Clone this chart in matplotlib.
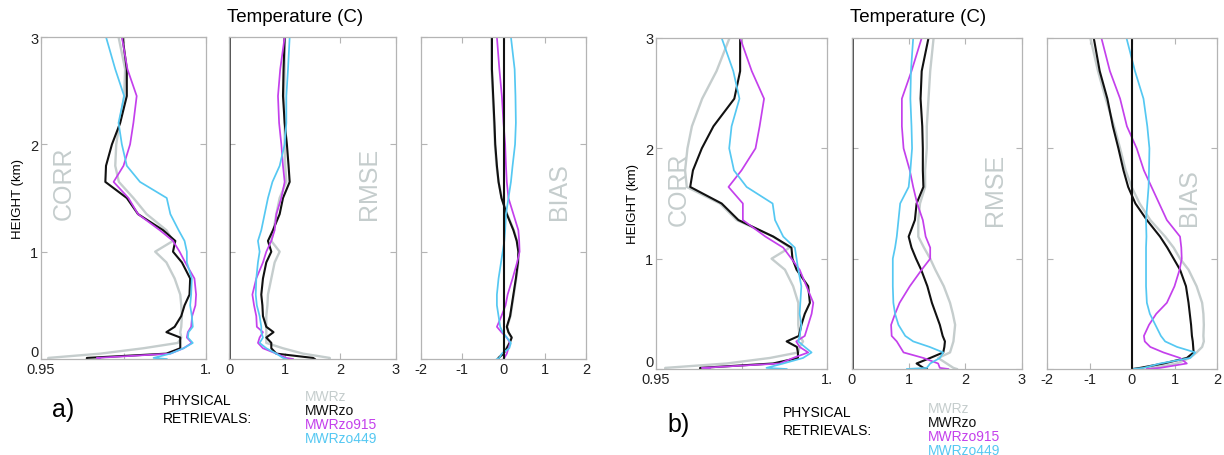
import matplotlib.pyplot as plt

plt.rcParams['font.family'] = ['Liberation Sans', 'DejaVu Sans']
plt.rcParams['axes.unicode_minus'] = False

# height levels (km), shared by every profile
height = [0, 0.01, 0.05, 0.1, 0.15, 0.2, 0.25, 0.3, 0.4, 0.5, 0.6, 0.75, 0.9,
          1.0, 1.1, 1.2, 1.35, 1.5, 1.65, 1.8, 2.0, 2.2, 2.45, 2.7, 3.0]

names = ['MWRz', 'MWRzo', 'MWRzo915', 'MWRzo449']
colors = ['#c5cdcd', '#111111', '#c440ec', '#55c8f2']
widths = [1.7, 1.5, 1.25, 1.25]

# ---- panel a ----
a_corr_mwrz = [0.9522, 0.9522, 0.968, 0.981, 0.9915, 0.9925, 0.9922, 0.9925, 0.9927, 0.9925, 0.9922, 0.9905, 0.988,
               0.9846, 0.990, 0.988, 0.982, 0.978, 0.9736, 0.9725, 0.9728, 0.9738, 0.9752, 0.9755, 0.9735]
a_corr_mwrzo = [0.9639, 0.9639, 0.988, 0.9922, 0.9922, 0.9922, 0.988, 0.9905, 0.9925, 0.9935, 0.995, 0.9952, 0.9927,
                0.990, 0.9907, 0.987, 0.9794, 0.976, 0.9695, 0.9697, 0.9715, 0.974, 0.976, 0.976, 0.9747]
a_corr_915 = [0.9679, 0.9669, 0.9892, 0.9932, 0.9957, 0.9942, 0.9945, 0.9955, 0.9958, 0.9968, 0.997, 0.9965, 0.9937,
              0.992, 0.990, 0.986, 0.9794, 0.9765, 0.972, 0.975, 0.977, 0.978, 0.979, 0.9762, 0.9745]
a_corr_449 = [0.9881, 0.9841, 0.9892, 0.9932, 0.996, 0.9945, 0.9947, 0.996, 0.9957, 0.9952, 0.9955, 0.9957, 0.9942,
              0.9942, 0.9935, 0.9917, 0.9892, 0.9881, 0.980, 0.976, 0.9745, 0.9735, 0.9752, 0.9725, 0.9697]

a_rmse_mwrz = [1.81, 1.81, 1.33, 0.97, 0.67, 0.67, 0.67, 0.67, 0.67, 0.69, 0.70, 0.76, 0.82,
               0.91, 0.76, 0.80, 0.85, 0.91, 1.03, 1.01, 1.00, 1.00, 0.99, 1.00, 1.00]
a_rmse_mwrzo = [1.54, 1.51, 0.85, 0.76, 0.76, 0.67, 0.80, 0.67, 0.61, 0.60, 0.58, 0.61, 0.67,
                0.76, 0.70, 0.79, 0.91, 0.97, 1.09, 1.07, 1.04, 1.00, 0.97, 0.98, 1.00]
a_rmse_915 = [1.15, 1.03, 0.85, 0.61, 0.52, 0.55, 0.61, 0.50, 0.49, 0.45, 0.42, 0.49, 0.61,
              0.67, 0.76, 0.82, 0.85, 0.94, 1.00, 0.97, 0.94, 0.90, 0.88, 0.92, 1.00]
a_rmse_449 = [1.03, 0.97, 0.85, 0.67, 0.55, 0.61, 0.58, 0.58, 0.55, 0.50, 0.48, 0.49, 0.52,
              0.55, 0.52, 0.58, 0.64, 0.70, 0.78, 0.91, 1.00, 1.03, 1.03, 1.06, 1.09]

a_bias_mwrz = [-0.14, -0.13, -0.02, 0.07, 0.14, 0.19, 0.12, 0.09, 0.17, 0.21, 0.25, 0.31, 0.36,
               0.37, 0.33, 0.25, 0.09, -0.04, -0.12, -0.17, -0.21, -0.23, -0.26, -0.29, -0.29]
a_bias_mwrzo = [-0.12, -0.12, 0.0, 0.08, 0.15, 0.20, 0.12, 0.08, 0.16, 0.20, 0.24, 0.30, 0.35,
                0.36, 0.32, 0.24, 0.08, -0.05, -0.12, -0.16, -0.20, -0.22, -0.25, -0.28, -0.28]
a_bias_915 = [0.0, 0.02, 0.08, 0.12, 0.16, 0.08, -0.05, -0.16, -0.05, 0.05, 0.10, 0.22, 0.33,
              0.39, 0.38, 0.36, 0.24, 0.12, 0.08, 0.06, 0.04, 0.0, -0.04, -0.10, -0.16]
a_bias_449 = [-0.16, -0.10, -0.04, 0.14, 0.18, 0.08, -0.02, -0.08, -0.12, -0.16, -0.16, -0.12, -0.06,
              -0.02, 0.02, 0.04, 0.06, 0.12, 0.18, 0.22, 0.28, 0.30, 0.29, 0.27, 0.18]

# ---- panel b ----
b_corr_mwrz = [0.9527, 0.9527, 0.9707, 0.9833, 0.9916, 0.992, 0.993, 0.992, 0.9916, 0.9916, 0.9916, 0.9901, 0.9877,
               0.9838, 0.9891, 0.9843, 0.9736, 0.9687, 0.959, 0.9585, 0.9592, 0.9605, 0.9635, 0.9677, 0.9715]
b_corr_mwrzo = [0.9629, 0.9629, 0.9842, 0.9915, 0.9915, 0.9912, 0.9882, 0.9918, 0.9925, 0.9935, 0.995, 0.9945, 0.9911,
                0.9899, 0.9896, 0.9843, 0.9741, 0.9692, 0.960, 0.9608, 0.9634, 0.9668, 0.9729, 0.9746, 0.9746]
b_corr_915 = [0.9658, 0.9634, 0.9862, 0.9901, 0.9945, 0.992, 0.991, 0.9935, 0.9945, 0.9955, 0.996, 0.994, 0.992,
              0.9896, 0.9872, 0.982, 0.9754, 0.9754, 0.9712, 0.975, 0.9791, 0.9803, 0.9816, 0.978, 0.9746]
b_corr_449 = [0.9882, 0.9823, 0.9872, 0.993, 0.9955, 0.9935, 0.9916, 0.992, 0.9925, 0.992, 0.9922, 0.9925, 0.9916,
              0.9911, 0.9906, 0.9872, 0.9848, 0.9841, 0.9765, 0.9728, 0.9714, 0.9721, 0.9744, 0.9726, 0.9692]

b_rmse_mwrz = [1.85, 1.79, 1.67, 1.52, 1.73, 1.76, 1.79, 1.80, 1.82, 1.78, 1.73, 1.62, 1.47,
               1.38, 1.27, 1.17, 1.17, 1.20, 1.29, 1.29, 1.32, 1.32, 1.35, 1.38, 1.44]
b_rmse_mwrzo = [1.32, 1.26, 1.14, 1.38, 1.61, 1.63, 1.64, 1.60, 1.55, 1.48, 1.41, 1.33, 1.22,
                1.13, 1.05, 1.00, 1.11, 1.14, 1.26, 1.25, 1.25, 1.24, 1.21, 1.23, 1.35]
b_rmse_915 = [1.70, 1.55, 1.52, 1.26, 0.91, 0.85, 0.79, 0.70, 0.69, 0.76, 0.84, 1.02, 1.23,
              1.38, 1.38, 1.30, 1.25, 1.15, 1.08, 1.02, 0.91, 0.88, 0.88, 1.05, 1.23]
b_rmse_449 = [0.97, 1.32, 1.38, 1.55, 1.61, 1.37, 1.08, 0.94, 0.82, 0.76, 0.73, 0.72, 0.72,
              0.72, 0.76, 0.79, 0.82, 0.85, 1.00, 1.03, 1.06, 1.05, 1.03, 1.04, 1.08]

b_bias_mwrz = [0.35, 0.50, 1.05, 1.36, 1.52, 1.65, 1.69, 1.68, 1.69, 1.68, 1.65, 1.52, 1.33,
               1.13, 0.98, 0.78, 0.43, 0.18, -0.01, -0.15, -0.28, -0.42, -0.62, -0.80, -0.98]
b_bias_mwrzo = [0.02, 0.19, 0.74, 1.29, 1.45, 1.44, 1.43, 1.41, 1.39, 1.36, 1.33, 1.27, 1.13,
                0.98, 0.83, 0.66, 0.35, 0.08, -0.09, -0.20, -0.32, -0.45, -0.58, -0.76, -0.90]
b_bias_915 = [0.35, 0.66, 1.29, 1.13, 0.74, 0.43, 0.30, 0.28, 0.40, 0.57, 0.82, 1.00, 1.12,
              1.17, 1.16, 1.13, 0.82, 0.64, 0.46, 0.28, 0.11, -0.12, -0.28, -0.52, -0.72]
b_bias_449 = [0.03, 0.27, 0.66, 1.37, 1.49, 1.06, 0.78, 0.68, 0.55, 0.42, 0.35, 0.33, 0.33,
              0.33, 0.33, 0.34, 0.33, 0.36, 0.39, 0.40, 0.41, 0.36, 0.27, 0.07, -0.13]

label_gray = '#c5cdcd'
spine_gray = '#b4b4b4'

fig = plt.figure(figsize=(12.24, 4.56), dpi=100)
W, H = 1224.0, 456.0


def make_ax(x0, x1, top, bottom):
    ax = fig.add_axes([x0 / W, 1 - bottom / H, (x1 - x0) / W, (bottom - top) / H])
    ax.set_ylim(0, 3)
    ax.set_yticks([0, 1, 2, 3])
    ax.tick_params(direction='in', length=4, width=0.8, top=True, right=True,
                   labelsize=10.5, pad=2, color=spine_gray, labelcolor='#222222')
    for s in ax.spines.values():
        s.set_color(spine_gray)
        s.set_linewidth(0.9)
    return ax


def draw_panel(xs, top, bottom, corr, rmse, bias, tag, title_x, leg):
    ax1 = make_ax(xs[0][0], xs[0][1], top, bottom)
    ax2 = make_ax(xs[1][0], xs[1][1], top, bottom)
    ax3 = make_ax(xs[2][0], xs[2][1], top, bottom)

    for ax, data in zip([ax1, ax2, ax3], [corr, rmse, bias]):
        for i in range(4):
            ax.plot(data[i], height, color=colors[i], lw=widths[i])

    ax1.set_xlim(0.95, 1.0)
    ax1.set_xticks([0.95, 0.975, 1.0])
    ax1.set_xticklabels(['0.95', '', '1.'])
    ax1.set_yticklabels(['0', '1', '2', '3'])
    ax1.get_yticklabels()[0].set_verticalalignment('bottom')
    ax1.set_ylabel('HEIGHT (km)', fontsize=9.5, labelpad=4)

    ax2.axvline(0, color='#111111', lw=1.8)
    ax2.set_xlim(0, 3)
    ax2.set_xticks([0, 1, 2, 3])
    ax2.set_yticklabels([])

    ax3.axvline(0, color='#111111', lw=1.5)
    ax3.set_xlim(-2, 2)
    ax3.set_xticks([-2, -1, 0, 1, 2])
    ax3.set_yticklabels([])

    y_lab = 0.435
    ax1.text(0.135, y_lab, 'CORR', transform=ax1.transAxes, rotation=90, fontsize=18,
             color=label_gray, ha='center', va='bottom')
    ax2.text(0.84, y_lab, 'RMSE', transform=ax2.transAxes, rotation=90, fontsize=18,
             color=label_gray, ha='center', va='bottom')
    ax3.text(0.835, y_lab, 'BIAS', transform=ax3.transAxes, rotation=90, fontsize=18,
             color=label_gray, ha='center', va='bottom')

    fig.text(title_x / W, 1 - 18 / H, 'Temperature (C)', fontsize=13.5, ha='center', va='center')

    fig.text(tag[0] / W, 1 - tag[1] / H, tag[2], fontsize=18, ha='left', va='center')
    fig.text(leg[0] / W, 1 - leg[1] / H, 'PHYSICAL', fontsize=10, ha='left', va='center')
    fig.text(leg[0] / W, 1 - (leg[1] + 18) / H, 'RETRIEVALS:', fontsize=10, ha='left', va='center')
    for i in range(4):
        fig.text(leg[2] / W, 1 - (leg[3] + 14 * i) / H, names[i], fontsize=10,
                 color=colors[i], ha='left', va='center')


draw_panel([(41, 206), (229, 396), (421, 586)], 38, 360,
           [a_corr_mwrz, a_corr_mwrzo, a_corr_915, a_corr_449],
           [a_rmse_mwrz, a_rmse_mwrzo, a_rmse_915, a_rmse_449],
           [a_bias_mwrz, a_bias_mwrzo, a_bias_915, a_bias_449],
           (52, 410, 'a)'), 295, (163, 401, 305, 397))

draw_panel([(656, 827), (852, 1022), (1047, 1217)], 39, 370,
           [b_corr_mwrz, b_corr_mwrzo, b_corr_915, b_corr_449],
           [b_rmse_mwrz, b_rmse_mwrzo, b_rmse_915, b_rmse_449],
           [b_bias_mwrz, b_bias_mwrzo, b_bias_915, b_bias_449],
           (667, 425, 'b)'), 918, (783, 413, 928, 409))

fig.savefig('out.png', dpi=100)
